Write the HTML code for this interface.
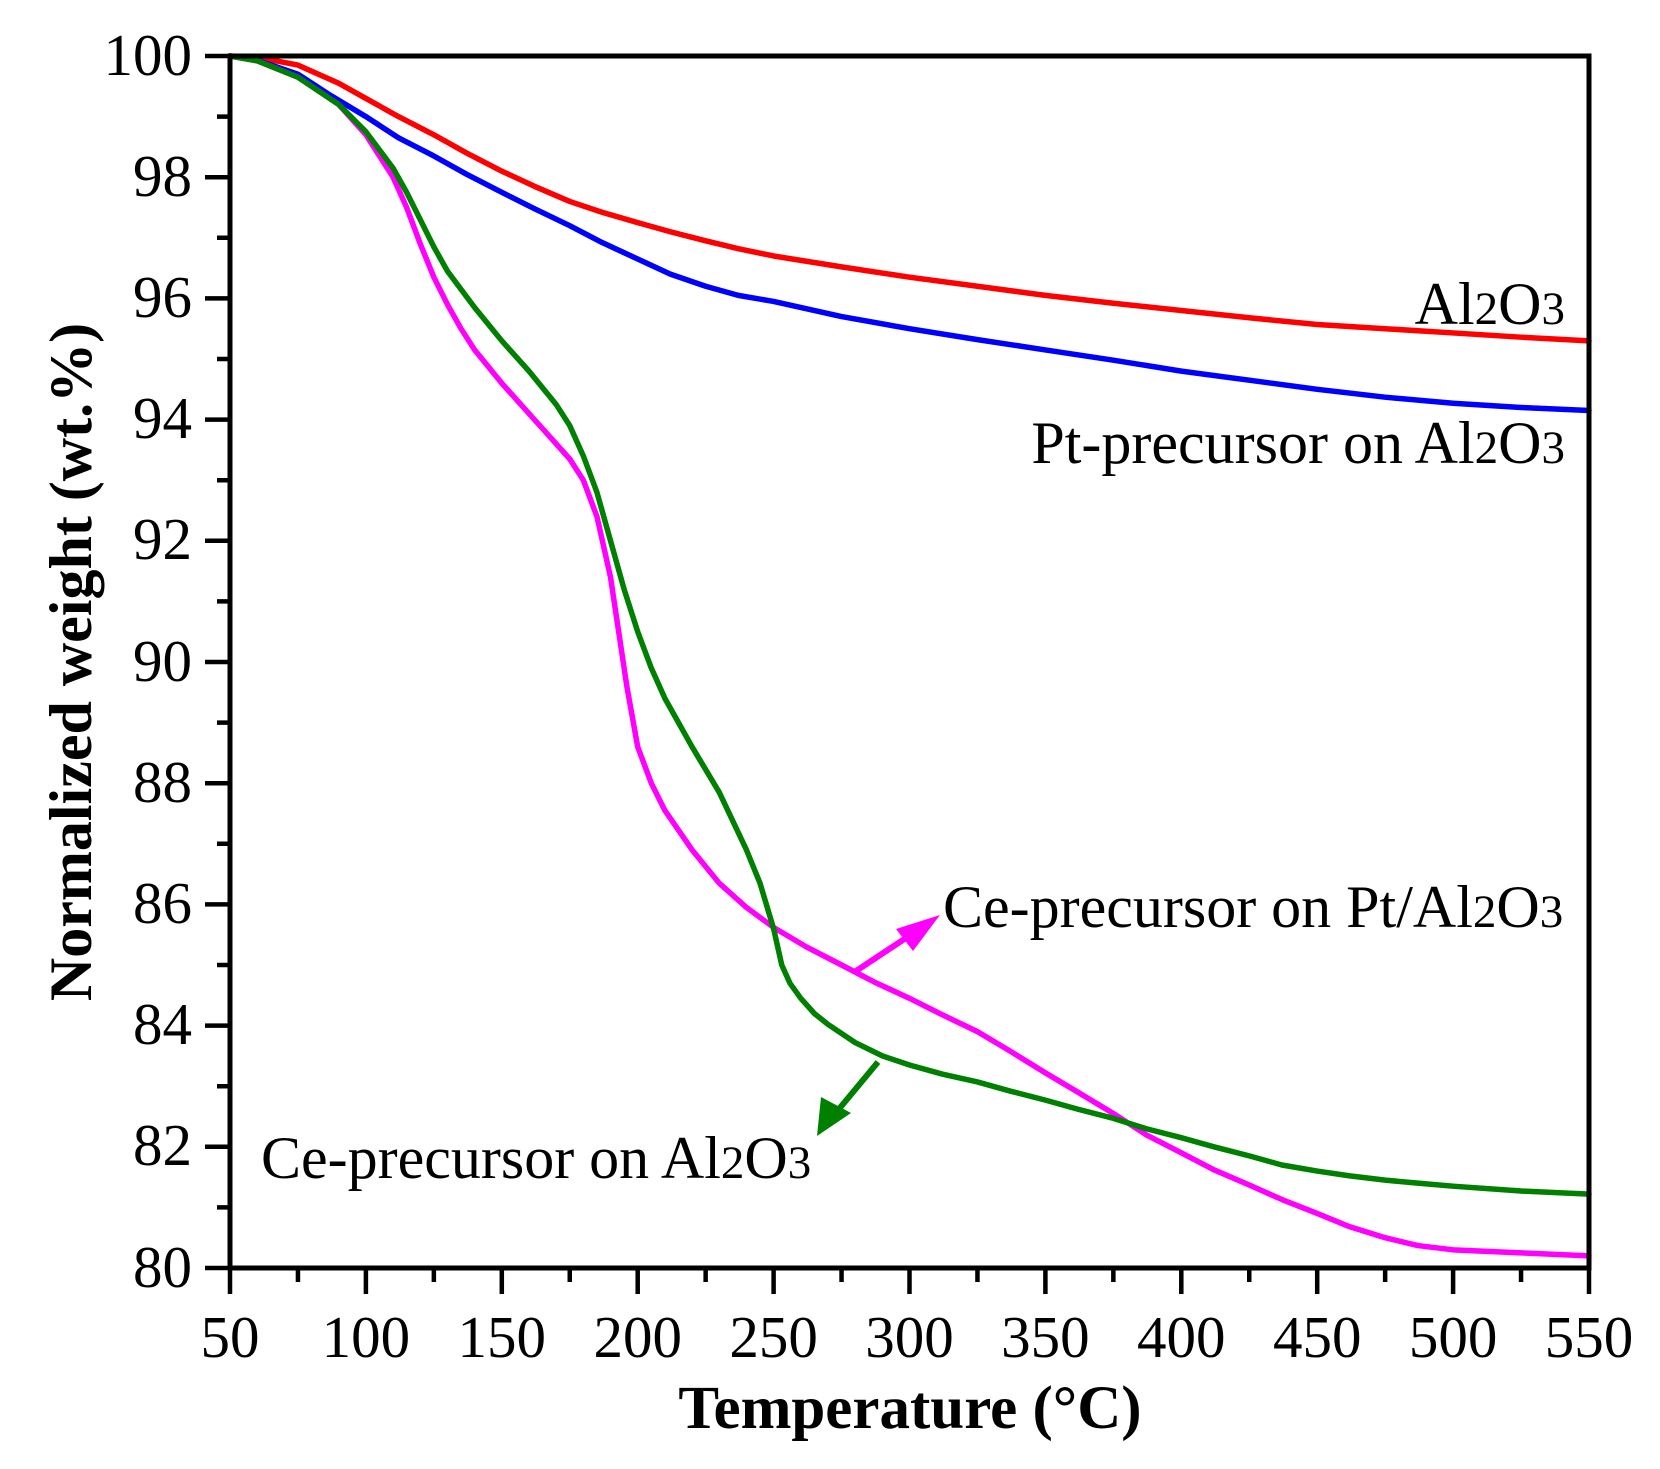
<!DOCTYPE html>
<html><head><meta charset="utf-8"><style>html,body{margin:0;padding:0;background:#fff}svg{display:block}</style></head>
<body>
<svg width="1660" height="1469" viewBox="0 0 1660 1469" xmlns="http://www.w3.org/2000/svg" font-family="Liberation Serif, serif">
<g fill="none" stroke-width="5.5" stroke-linejoin="round" stroke-linecap="round" transform="matrix(2.718 0 0 -60.6 94.1 6116)">
<polyline vector-effect="non-scaling-stroke" stroke="#ff0000" points="50,100 60,99.98 75,99.85 90,99.55 100,99.3 112,99.0 125,98.7 137,98.4 150,98.1 162,97.85 175,97.6 187,97.42 200,97.25 212,97.1 225,96.95 237,96.82 250,96.7 275,96.52 300,96.35 325,96.2 350,96.05 375,95.92 400,95.8 425,95.68 450,95.57 475,95.5 500,95.43 525,95.36 550,95.3"/>
<polyline vector-effect="non-scaling-stroke" stroke="#0000ff" points="50,100 60,99.93 75,99.7 87,99.35 100,99.0 112,98.65 125,98.35 137,98.05 150,97.75 162,97.48 175,97.2 187,96.92 200,96.65 212,96.4 225,96.2 237,96.05 250,95.95 275,95.7 300,95.5 325,95.32 350,95.15 375,94.98 400,94.8 425,94.65 450,94.5 475,94.37 500,94.27 525,94.2 550,94.15"/>
<polyline vector-effect="non-scaling-stroke" stroke="#ff00ff" points="50,100 60,99.92 75,99.65 90,99.2 100,98.7 110,98.0 115,97.5 120,96.9 125,96.35 130,95.9 135,95.5 140,95.15 150,94.6 160,94.1 170,93.6 175,93.35 180,93.0 185,92.4 190,91.4 193,90.5 196,89.6 200,88.6 205,88.0 210,87.55 220,86.9 230,86.35 240,85.95 250,85.62 262,85.3 275,85.0 287,84.72 300,84.45 312,84.18 325,83.9 337,83.58 350,83.22 362,82.9 375,82.55 387,82.2 400,81.9 412,81.62 425,81.37 437,81.13 450,80.9 462,80.68 475,80.5 487,80.37 500,80.3 525,80.25 550,80.2"/>
<polyline vector-effect="non-scaling-stroke" stroke="#008000" points="50,100 60,99.92 75,99.65 90,99.2 100,98.75 110,98.15 115,97.75 120,97.3 125,96.85 130,96.45 140,95.85 150,95.3 160,94.8 170,94.25 175,93.9 180,93.4 185,92.8 190,92.0 195,91.2 200,90.5 205,89.9 210,89.4 220,88.6 230,87.85 240,86.9 245,86.35 250,85.6 253,85.0 256,84.7 260,84.45 265,84.2 270,84.02 280,83.72 290,83.5 300,83.35 312,83.2 325,83.07 337,82.92 350,82.77 362,82.62 375,82.47 387,82.3 400,82.15 412,82.0 425,81.85 437,81.7 450,81.6 462,81.52 475,81.45 487,81.4 500,81.35 525,81.27 550,81.22"/>
</g>
<!-- arrows -->
<line x1="856" y1="971" x2="918" y2="930" stroke="#ff00ff" stroke-width="6"/>
<polygon points="940,915 896,929 913,951" fill="#ff00ff"/>
<line x1="878" y1="1062" x2="834" y2="1115" stroke="#008000" stroke-width="6"/>
<polygon points="817,1136 821,1097 851,1113" fill="#008000"/>
<!-- axes box -->
<rect x="230" y="56" width="1359" height="1212" fill="none" stroke="#000" stroke-width="5"/>
<g stroke="#000" stroke-width="4.5">
<path d="M205 56H230M205 177.2H230M205 298.4H230M205 419.6H230M205 540.8H230M205 662H230M205 783.2H230M205 904.4H230M205 1025.6H230M205 1146.8H230M205 1268H230"/>
<path d="M217 116.6H230M217 237.8H230M217 359H230M217 480.2H230M217 601.4H230M217 722.6H230M217 843.8H230M217 965H230M217 1086.2H230M217 1207.4H230"/>
<path d="M230 1268V1294M365.9 1268V1294M501.8 1268V1294M637.7 1268V1294M773.6 1268V1294M909.5 1268V1294M1045.4 1268V1294M1181.3 1268V1294M1317.2 1268V1294M1453.1 1268V1294M1589 1268V1294"/>
<path d="M297.95 1268V1282M433.85 1268V1282M569.75 1268V1282M705.65 1268V1282M841.55 1268V1282M977.45 1268V1282M1113.35 1268V1282M1249.25 1268V1282M1385.15 1268V1282M1521.05 1268V1282"/>
</g>
<g font-size="59" text-anchor="end" fill="#000">
<text x="192" y="75">100</text><text x="192" y="196">98</text><text x="192" y="317">96</text><text x="192" y="438">94</text><text x="192" y="559">92</text><text x="192" y="681">90</text><text x="192" y="802">88</text><text x="192" y="923">86</text><text x="192" y="1044">84</text><text x="192" y="1165">82</text><text x="192" y="1287">80</text>
</g>
<g font-size="59" text-anchor="middle" fill="#000">
<text x="230" y="1357">50</text><text x="365.9" y="1357">100</text><text x="501.8" y="1357">150</text><text x="637.7" y="1357">200</text><text x="773.6" y="1357">250</text><text x="909.5" y="1357">300</text><text x="1045.4" y="1357">350</text><text x="1181.3" y="1357">400</text><text x="1317.2" y="1357">450</text><text x="1453.1" y="1357">500</text><text x="1589" y="1357">550</text>
</g>
<text x="910" y="1428" font-size="61" font-weight="bold" text-anchor="middle">Temperature (°C)</text>
<text transform="translate(91,662) rotate(-90)" font-size="60" font-weight="bold" text-anchor="middle">Normalized weight (wt.%)</text>
<g font-size="60" fill="#000">
<text x="1565" y="324" text-anchor="end">Al<tspan font-size="47">2</tspan>O<tspan font-size="47">3</tspan></text>
<text x="1565" y="463" text-anchor="end">Pt-precursor on Al<tspan font-size="47">2</tspan>O<tspan font-size="47">3</tspan></text>
<text x="943" y="927">Ce-precursor on Pt/Al<tspan font-size="47">2</tspan>O<tspan font-size="47">3</tspan></text>
<text x="261" y="1178">Ce-precursor on Al<tspan font-size="47">2</tspan>O<tspan font-size="47">3</tspan></text>
</g>
</svg>
</body></html>
